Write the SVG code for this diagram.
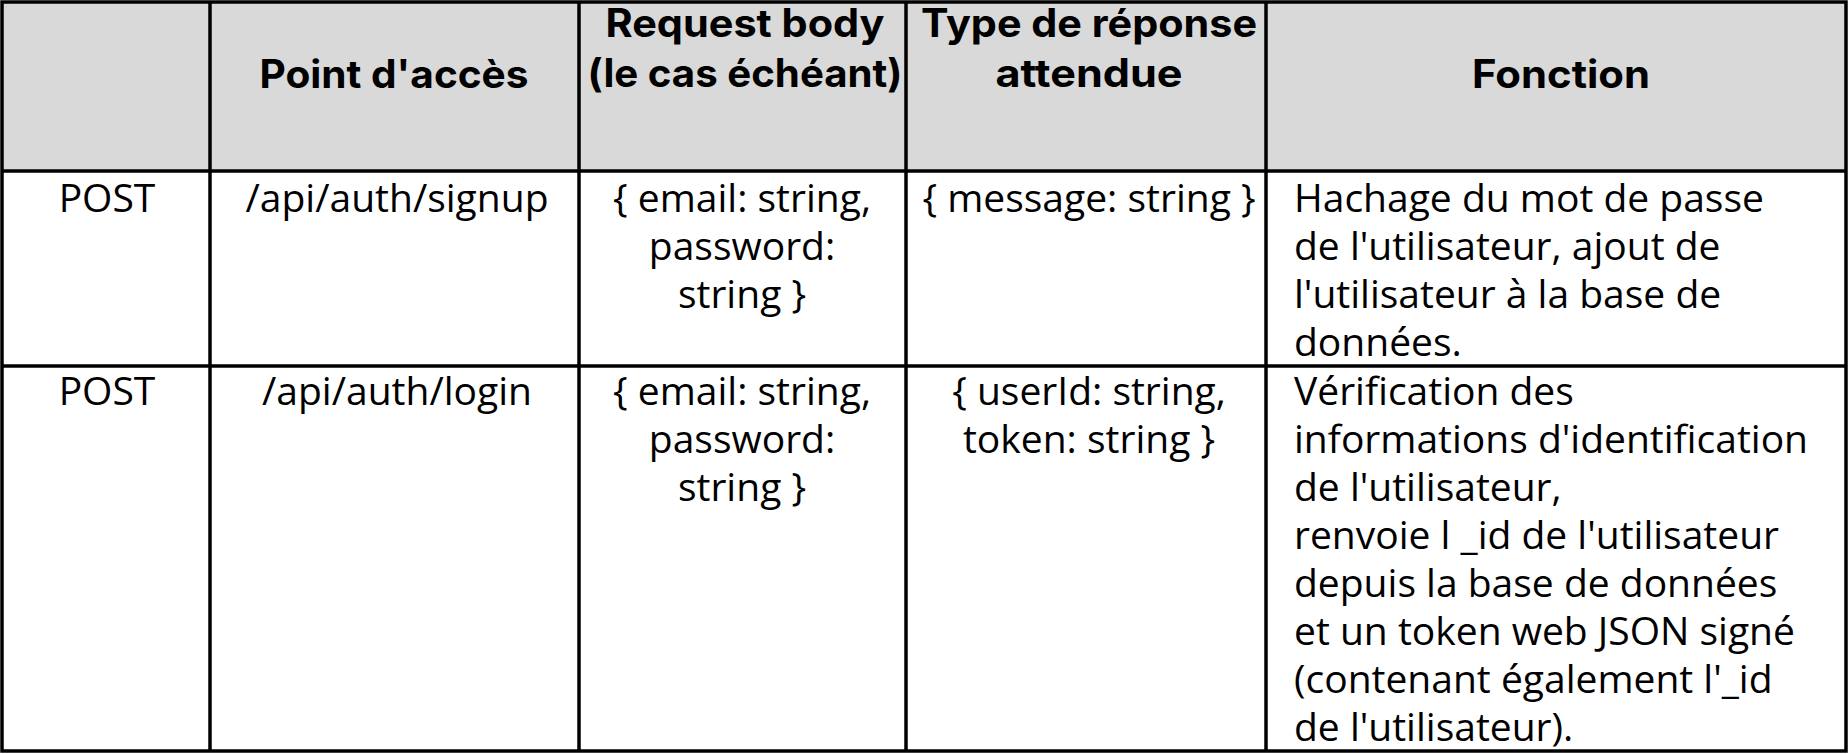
<svg xmlns="http://www.w3.org/2000/svg" width="1848" height="754" viewBox="0 0 1848 754">
<style>
.h{font-family:Inter,"Liberation Sans",sans-serif;font-weight:700;font-size:39px;fill:#000;text-anchor:middle}
.b{font-family:"Open Sans","Liberation Sans",sans-serif;font-size:39px;fill:#000}
.c{text-anchor:middle}
.grid{stroke:#000;stroke-width:3.5;fill:none}
</style>
<rect x="0" y="0" width="1848" height="754" fill="#fff"/>
<g id="header">
<rect x="2" y="2" width="1844" height="169" fill="#d9d9d9"/>
<text class="h" x="394" y="88" textLength="269" lengthAdjust="spacingAndGlyphs">Point d'accès</text>
<text class="h" x="745" y="37" textLength="279" lengthAdjust="spacingAndGlyphs">Request body</text>
<text class="h" x="745" y="87" textLength="315" lengthAdjust="spacingAndGlyphs">(le cas échéant)</text>
<text class="h" x="1089" y="37" textLength="336" lengthAdjust="spacingAndGlyphs">Type de réponse</text>
<text class="h" x="1089" y="87" textLength="187" lengthAdjust="spacingAndGlyphs">attendue</text>
<text class="h" x="1561" y="88" textLength="178" lengthAdjust="spacingAndGlyphs">Fonction</text>
</g>
<g id="row-signup">
<text class="b c" x="107" y="212">POST</text>
<text class="b c" x="397" y="212">/api/auth/signup</text>
<text class="b c" x="742" y="212">{ email: string,</text>
<text class="b c" x="742" y="260">password:</text>
<text class="b c" x="742" y="308">string }</text>
<text class="b c" x="1089" y="212">{ message: string }</text>
<text class="b" x="1294" y="212">Hachage du mot de passe</text>
<text class="b" x="1294" y="260">de l'utilisateur, ajout de</text>
<text class="b" x="1294" y="308">l'utilisateur à la base de</text>
<text class="b" x="1294" y="356">données.</text>
</g>
<g id="row-login">
<text class="b c" x="107" y="405">POST</text>
<text class="b c" x="397" y="405">/api/auth/login</text>
<text class="b c" x="742" y="405">{ email: string,</text>
<text class="b c" x="742" y="453">password:</text>
<text class="b c" x="742" y="501">string }</text>
<text class="b c" x="1089" y="405">{ userId: string,</text>
<text class="b c" x="1089" y="453">token: string }</text>
<text class="b" x="1294" y="405">Vérification des</text>
<text class="b" x="1294" y="453">informations d'identification</text>
<text class="b" x="1294" y="501">de l'utilisateur,</text>
<text class="b" x="1294" y="549">renvoie l _id de l'utilisateur</text>
<text class="b" x="1294" y="597">depuis la base de données</text>
<text class="b" x="1294" y="645">et un token web JSON signé</text>
<text class="b" x="1294" y="693">(contenant également l'_id</text>
<text class="b" x="1294" y="741">de l'utilisateur).</text>
</g>
<g id="grid" class="grid">
<rect x="2" y="2" width="1844" height="749"/>
<line x1="210" y1="2" x2="210" y2="751"/>
<line x1="579" y1="2" x2="579" y2="751"/>
<line x1="906" y1="2" x2="906" y2="751"/>
<line x1="1266" y1="2" x2="1266" y2="751"/>
<line x1="2" y1="171" x2="1846" y2="171"/>
<line x1="2" y1="366" x2="1846" y2="366"/>
</g>
</svg>
